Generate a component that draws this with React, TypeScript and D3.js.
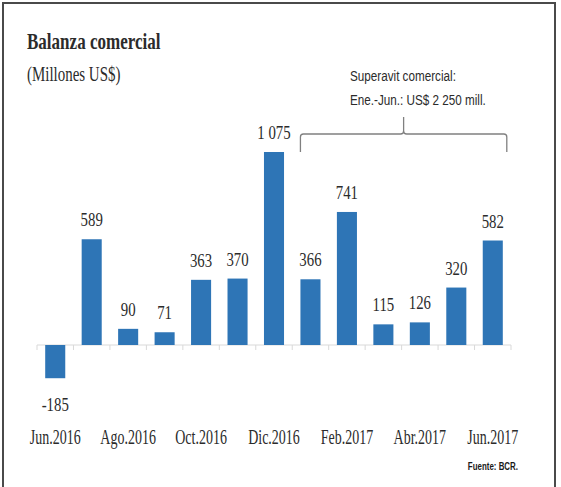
import React from 'react';
import * as d3 from 'd3';

const months = [
  'Jun.2016', 'Jul.2016', 'Ago.2016', 'Sep.2016', 'Oct.2016', 'Nov.2016', 'Dic.2016',
  'Ene.2017', 'Feb.2017', 'Mar.2017', 'Abr.2017', 'May.2017', 'Jun.2017',
];
const balance = [-185, 589, 90, 71, 363, 370, 1075, 366, 741, 115, 126, 320, 582];
const tickLabels = ['Jun.2016', 'Ago.2016', 'Oct.2016', 'Dic.2016', 'Feb.2017', 'Abr.2017', 'Jun.2017'];
const surplusFrom = 'Ene.2017';
const surplusTo = 'Jun.2017';
const surplusNote = ['Superavit comercial:', 'Ene.-Jun.: US$ 2 250 mill.'];

const W = 561;
const H = 487;
const BLUE = '#2E75B6';
const INK = '#2b2b2b';
const SERIF = '"Liberation Serif", serif';
const SANS = '"Liberation Sans", Arial, sans-serif';

const locale = d3.formatLocale({ decimal: ',', thousands: ' ', grouping: [3], currency: ['', ''], minus: '-' });
const fmt = locale.format(',d');

// narrow text: the chart uses a condensed face, so squeeze horizontally
const Narrow = ({ x, y, sx, anchor = 'start', size, family, weight = 'normal', fill = INK, children }: any) => (
  <g transform={`translate(${x},${y}) scale(${sx},1)`}>
    <text textAnchor={anchor} fontSize={size} fontFamily={family} fontWeight={weight} fill={fill}>
      {children}
    </text>
  </g>
);

export default function App() {
  const x = d3.scaleBand<string>().domain(months).range([37, 511]).paddingInner(0.45).paddingOuter(0.225);
  const y = d3.scaleLinear().domain([0, 1075]).range([345, 152]);
  const y0 = y(0);
  const bw = x.bandwidth();
  const step = x.step();
  const [r0, r1] = x.range();

  const bx0 = x(surplusFrom)!;
  const bx1 = x(surplusTo)! + bw + 4;
  const bm = (bx0 + bx1) / 2;
  const by = 134;
  const bracket = [
    `M${bx0},152 L${bx0},${by + 3} Q${bx0},${by} ${bx0 + 3},${by}`,
    `L${bm - 3},${by} Q${bm},${by} ${bm},${by - 3} L${bm},117`,
    `M${bm},${by - 3} Q${bm},${by} ${bm + 3},${by}`,
    `L${bx1 - 3},${by} Q${bx1},${by} ${bx1},${by + 3} L${bx1},152`,
  ].join(' ');

  const ticks = d3.range(months.length + 1).map((i) => r0 + i * step);

  return (
    <svg width={W} height={H} style={{ position: 'absolute', left: 0, top: 0, background: '#fff' }}>
      <rect x={3} y={3} width={552} height={520} fill="#fff" stroke="#4a4a4a" strokeWidth={2} />

      <Narrow x={27} y={49} sx={0.71} size={24} family={SERIF} weight="bold">Balanza comercial</Narrow>
      <Narrow x={27} y={81} sx={0.68} size={22} family={SERIF}>(Millones US$)</Narrow>

      {/* zero line with category ticks */}
      <line x1={r0} x2={r1} y1={y0} y2={y0} stroke="#d9d9d9" strokeWidth={1} />
      {ticks.map((t, i) => (
        <line key={i} x1={t} x2={t} y1={y0} y2={y0 + 5} stroke="#d9d9d9" strokeWidth={1} />
      ))}

      {months.map((m, i) => {
        const v = balance[i];
        const top = Math.min(y(v), y0);
        const h = Math.abs(y(v) - y0);
        const cx = x(m)! + bw / 2;
        const ly = v >= 0 ? y(v) - 13 : y(v) + 33;
        return (
          <g key={m}>
            <rect x={x(m)} y={top} width={bw} height={h} fill={BLUE} />
            <Narrow x={cx} y={ly} sx={0.78} anchor="middle" size={19} family={SERIF}>{fmt(v)}</Narrow>
          </g>
        );
      })}

      {tickLabels.map((m) => (
        <Narrow key={m} x={x(m)! + bw / 2} y={444} sx={0.7} anchor="middle" size={20} family={SERIF}>{m}</Narrow>
      ))}

      <path d={bracket} fill="none" stroke="#808080" strokeWidth={1.3} />
      {surplusNote.map((t, i) => (
        <Narrow key={t} x={350} y={81 + i * 24} sx={0.78} size={15} family={SANS}>{t}</Narrow>
      ))}

      <Narrow x={518} y={470} sx={0.72} anchor="end" size={11} family={SANS} weight="bold" fill="#1a1a1a">Fuente: BCR.</Narrow>
    </svg>
  );
}
